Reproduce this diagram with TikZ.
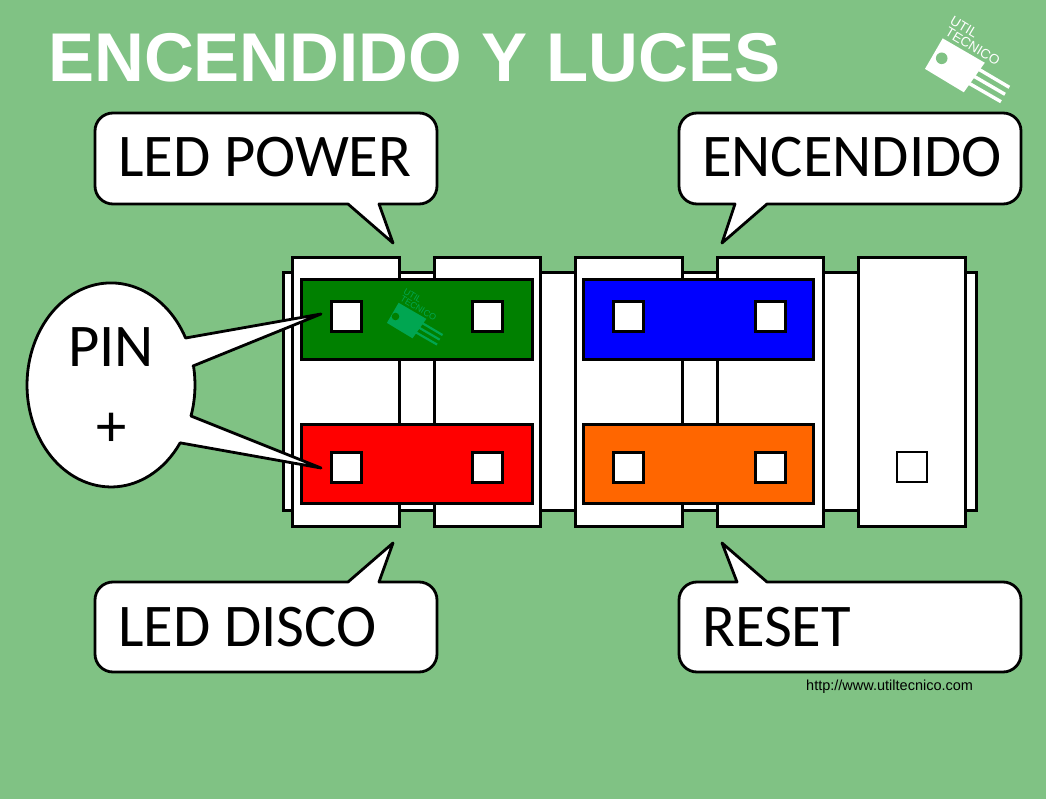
\documentclass[tikz,border=0pt]{standalone}
\usepackage{fontspec}
\setmainfont{Liberation Sans}
\newfontfamily\bubblefont{Carlito}
\usetikzlibrary{positioning}
\definecolor{boardbg}{RGB}{128,194,132}
\definecolor{jumpgreen}{RGB}{0,128,0}
\definecolor{jumpblue}{RGB}{0,0,255}
\definecolor{jumpred}{RGB}{255,0,0}
\definecolor{jumporange}{RGB}{255,102,0}
\definecolor{marklogo}{RGB}{0,166,81}
\tikzset{
    x=1pt,
    y=-1pt,
    housing/.style = {
        draw,
        shape=rectangle,
        fill=white,
        inner sep=0pt,
        minimum height=268pt,
        minimum width=106.5pt,
        line width=3pt
    },
    jumper/.style = {
        draw,
        shape=rectangle,
        inner sep=0pt,
        minimum height=79.5pt,
        minimum width=230.5pt,
        line width=3pt
    },
    pinhole/.style = {
        draw,
        shape=rectangle,
        fill=white,
        inner sep=0pt,
        minimum height=30pt,
        minimum width=30pt,
        line width=3pt
    },
    bubble/.style = {
        draw,
        fill=white,
        line width=2.8pt,
        line join=round
    },
    bubbletext/.style = {
        anchor=base west,
        inner sep=0pt,
        font=\bubblefont\fontsize{60.6}{70}\selectfont
    },
    logotext/.style = {
        transform shape,
        rotate=-31,
        inner sep=0pt,
        font=\fontsize{13.5}{13.5}\selectfont
    },
    logo/.pic = {
        \fill[pic actions] (0,0) -- (39,22.6) -- (20,49.3) -- (-16,27.6) -- cycle;
        \draw[pic actions] (35,28.3) -- (66,46.6);
        \draw[pic actions] (29.7,35) -- (61.7,53.6);
        \draw[pic actions] (25.7,42.6) -- (57.7,61);
        \node[logotext] (-util) at (20.7,-13.5) {UTIL};
        \node[logotext] (-tec) at (29.4,5.8) {TECNICO};
    }
}

\begin{document}
\begin{tikzpicture}
    \useasboundingbox[fill=boardbg] (0,0) rectangle (1046,799);

    \node[anchor=base west, inner sep=0pt, text=white, font=\bfseries\fontsize{69}{84}\selectfont] (title) at (48,82) {ENCENDIDO Y LUCES};
    \pic[fill=white, draw=white, text=white, line width=3.4pt] (biglogo) at (943.3,40.7) {logo};
    \fill[boardbg] (941.7,58.3) circle (5.8);

    % connector body
    \node[housing, minimum width=693pt, minimum height=237pt] (bar) at (629.5,391.5) {};
    \node[housing] (houseA) at (346,392) {};
    \node[housing] (houseB) at (487.5,392) {};
    \node[housing] (houseC) at (629,392) {};
    \node[housing] (houseD) at (770.5,392) {};
    \node[housing] (houseE) at (912,392) {};

    % jumpers
    \node[jumper, fill=jumpgreen] (ledpower) at (417,319.5) {};
    \node[jumper, fill=jumpred] (leddisco) at (417,464) {};
    \node[jumper, fill=jumpblue] (power) at (698.5,319.5) {};
    \node[jumper, fill=jumporange] (reset) at (698.5,464) {};

    \node[pinhole] (holeA) at (346.5,317) {};
    \node[pinhole] (holeB) at (487.5,317) {};
    \node[pinhole] (holeC) at (346.5,467) {};
    \node[pinhole] (holeD) at (487.5,467) {};
    \node[pinhole] (holeE) at (628.5,317) {};
    \node[pinhole] (holeF) at (770,317) {};
    \node[pinhole] (holeG) at (628.5,467) {};
    \node[pinhole] (holeH) at (770,467) {};
    \node[pinhole, line width=2pt] (holeI) at (912,467) {};

    \pic[fill=marklogo, draw=marklogo, text=marklogo, scale=0.66, line width=2.2pt] (smalllogo) at (399,304.3) {logo};
    \fill[jumpgreen] (395.5,316.5) circle (3.8);

    % balloons
    \draw[bubble] (348,204) -- (393,243) -- (379,204) -- (419,204)
        arc[start angle=90, end angle=0, radius=18] -- (437,131)
        arc[start angle=0, end angle=-90, radius=18] -- (113,113)
        arc[start angle=-90, end angle=-180, radius=18] -- (95,186)
        arc[start angle=-180, end angle=-270, radius=18] -- cycle;
    \draw[bubble] (735,204) -- (722,243) -- (767,204) -- (1003,204)
        arc[start angle=90, end angle=0, radius=18] -- (1021,131)
        arc[start angle=0, end angle=-90, radius=18] -- (697,113)
        arc[start angle=-90, end angle=-180, radius=18] -- (679,186)
        arc[start angle=-180, end angle=-270, radius=18] -- cycle;
    \draw[bubble] (348,582) -- (393,543) -- (379,582) -- (419,582)
        arc[start angle=-90, end angle=0, radius=18] -- (437,654)
        arc[start angle=0, end angle=90, radius=18] -- (113,672)
        arc[start angle=90, end angle=180, radius=18] -- (95,600)
        arc[start angle=180, end angle=270, radius=18] -- cycle;
    \draw[bubble] (737,582) -- (722,543) -- (767,582) -- (1003,582)
        arc[start angle=-90, end angle=0, radius=18] -- (1021,654)
        arc[start angle=0, end angle=90, radius=18] -- (697,672)
        arc[start angle=90, end angle=180, radius=18] -- (679,600)
        arc[start angle=180, end angle=270, radius=18] -- cycle;

    \node[bubbletext] (txtpower) at (118,177) {LED POWER};
    \node[bubbletext] (txtenc) at (702,177) {ENCENDIDO};
    \node[bubbletext] (txtdisco) at (118,646) {LED DISCO};
    \node[bubbletext] (txtreset) at (702,646) {RESET};

    % pin balloon
    \draw[bubble, x radius=84, y radius=102] (193,366) -- (321,314) -- (185.6,338)
        arc[start angle=-27.4, end angle=-325.4]
        -- (321,468) -- (191,416)
        arc[start angle=17.7, end angle=-10.7] -- cycle;
    \node[bubbletext] (txtpin) at (68,366) {PIN};
    \node[bubbletext] (txtplus) at (96,446) {+};

    \node[anchor=base west, inner sep=0pt, font=\fontsize{14.5}{14.5}\selectfont] (website) at (806,690) {http://www.utiltecnico.com};
\end{tikzpicture}
\end{document}
